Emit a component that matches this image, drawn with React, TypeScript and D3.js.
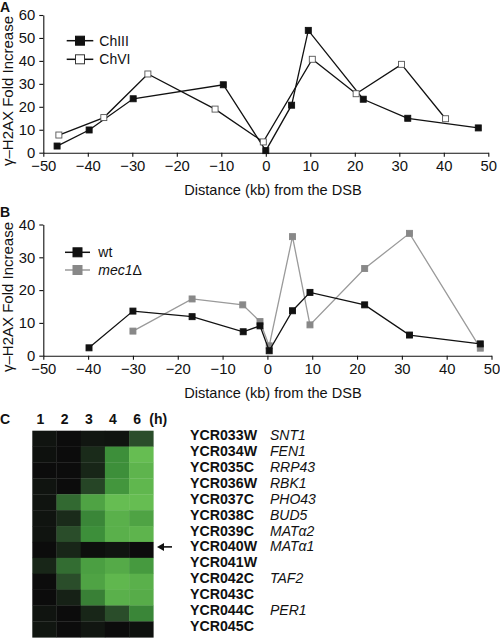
import React, { useEffect, useRef } from "react";
import * as d3 from "d3";

// Panel A data
const chIIIx = [-46.9, -39.7, -29.8, -9.55, 0, 5.8, 9.55, 21.9, 31.9, 47.75];
const chIIIy = [2.9, 9.9, 23.5, 29.6, 0.9, 20.7, 53.3, 23.3, 15.0, 10.8];
const chVIx = [-46.5, -36.4, -26.5, -11.4, -0.56, 10.45, 20.3, 30.5, 40.4];
const chVIy = [7.7, 15.3, 34.3, 19.0, 4.7, 40.7, 25.7, 38.5, 14.8];

// Panel B data
const wtX = [-39.8, -30, -16.8, -5.4, -1.65, 0.4, 5.6, 9.5, 21.7, 31.7, 47.5];
const wtY = [2.4, 13.6, 11.9, 7.3, 9.1, 1.5, 13.7, 19.3, 15.5, 6.3, 3.6];
const mecX = [-30, -16.8, -5.5, -1.65, 0.4, 5.6, 9.5, 21.7, 31.7, 47.5];
const mecY = [7.5, 17.3, 15.5, 10.4, 3.0, 36.3, 9.4, 26.6, 37.3, 2.3];

const xTicks = [-50, -40, -30, -20, -10, 0, 10, 20, 30, 40, 50];
const yTicksA = [0, 10, 20, 30, 40, 50, 60];
const yTicksB = [0, 10, 20, 30, 40];

// Panel C data
const timepoints = ["1", "2", "3", "4", "6"];
const orfs = ["YCR033W", "YCR034W", "YCR035C", "YCR036W", "YCR037C", "YCR038C", "YCR039C", "YCR040W", "YCR041W", "YCR042C", "YCR043C", "YCR044C", "YCR045C"];
const genes = ["SNT1", "FEN1", "RRP43", "RBK1", "PHO43", "BUD5", "MATα2", "MATα1", "", "TAF2", "", "PER1", ""];
const expression = [
  [0.03, 0, 0.04, 0.03, 0.25],
  [0.02, 0, 0.12, 0.6, 0.95],
  [0, 0, 0.1, 0.6, 0.88],
  [0.03, 0, 0.22, 0.65, 0.9],
  [0.03, 0.4, 0.75, 0.95, 0.95],
  [0.03, 0.12, 0.55, 0.85, 0.75],
  [0.03, 0.25, 0.6, 0.85, 0.88],
  [0, 0.1, 0.01, 0.03, 0],
  [0.1, 0.42, 0.72, 0.8, 0.68],
  [0, 0.25, 0.75, 0.9, 0.85],
  [0, 0.08, 0.52, 0.85, 0.82],
  [0.03, 0, 0.1, 0.25, 0.55],
  [0.04, 0, 0.04, 0, 0.02],
];
const arrowRow = "YCR040W";

const FONT = "'Liberation Sans', Arial, sans-serif";

export default function App() {
  const ref = useRef<SVGSVGElement>(null);

  useEffect(() => {
    const svg = d3.select(ref.current);
    svg.selectAll("*").remove();

    const drawPanel = (
      xs: d3.ScaleLinear<number, number>,
      ys: d3.ScaleLinear<number, number>,
      yTicks: number[],
      titleY: number,
      yTitleCenter: number,
      letter: string,
      letterY: number
    ) => {
      const g = svg.append("g");
      const xAxis = d3.axisBottom(xs).tickValues(xTicks).tickSize(4).tickSizeOuter(0).tickPadding(4).tickFormat(d3.format("d"));
      const yAxis = d3.axisLeft(ys).tickValues(yTicks).tickSize(4).tickSizeOuter(0).tickPadding(4).tickFormat(d3.format("d"));
      const gx = g.append("g").attr("transform", `translate(0,${ys(0)})`).call(xAxis);
      const gy = g.append("g").attr("transform", `translate(${xs(-50)},0)`).call(yAxis);
      [gx, gy].forEach((a) => {
        a.selectAll("path,line").attr("stroke", "#111").attr("stroke-width", 1.1);
        a.selectAll("text").attr("font-family", FONT).attr("font-size", 14.8).attr("fill", "#111");
      });
      g.append("text")
        .attr("x", 273)
        .attr("y", titleY)
        .attr("text-anchor", "middle")
        .attr("font-family", FONT)
        .attr("font-size", 14.6)
        .attr("fill", "#111")
        .text("Distance (kb) from the DSB");
      g.append("text")
        .attr("transform", `translate(13,${yTitleCenter}) rotate(-90)`)
        .attr("text-anchor", "middle")
        .attr("font-family", FONT)
        .attr("font-size", 15)
        .attr("fill", "#111")
        .text("γ–H2AX Fold Increase");
      g.append("text")
        .attr("x", 0)
        .attr("y", letterY)
        .attr("font-family", FONT)
        .attr("font-weight", "bold")
        .attr("font-size", 14)
        .attr("fill", "#111")
        .text(letter);
      return g;
    };

    const drawSeries = (
      g: d3.Selection<SVGGElement, unknown, null, undefined>,
      xs: d3.ScaleLinear<number, number>,
      ys: d3.ScaleLinear<number, number>,
      xv: number[],
      yv: number[],
      lineColor: string,
      fill: string,
      stroke: string,
      size: number
    ) => {
      const pts: [number, number][] = xv.map((x, i) => [x, yv[i]]);
      const line = d3.line<[number, number]>().x((d) => xs(d[0])).y((d) => ys(d[1]));
      g.append("path").attr("d", line(pts)).attr("fill", "none").attr("stroke", lineColor).attr("stroke-width", 1.3);
      g.selectAll(null)
        .data(pts)
        .enter()
        .append("rect")
        .attr("x", (d) => xs(d[0]) - size / 2)
        .attr("y", (d) => ys(d[1]) - size / 2)
        .attr("width", size)
        .attr("height", size)
        .attr("fill", fill)
        .attr("stroke", stroke)
        .attr("stroke-width", 0.9);
    };

    const legend = (
      g: d3.Selection<SVGGElement, unknown, null, undefined>,
      x0: number,
      x1: number,
      y: number,
      lineColor: string,
      fill: string,
      stroke: string,
      label: (t: d3.Selection<SVGTextElement, unknown, null, undefined>) => void,
      tx: number
    ) => {
      g.append("line").attr("x1", x0).attr("x2", x1).attr("y1", y).attr("y2", y).attr("stroke", lineColor).attr("stroke-width", 1.5);
      const m = (x0 + x1) / 2;
      g.append("rect").attr("x", m - 4.5).attr("y", y - 4.5).attr("width", 9).attr("height", 9).attr("fill", fill).attr("stroke", stroke).attr("stroke-width", 1);
      const t = g.append("text").attr("x", tx).attr("y", y + 5).attr("font-family", FONT).attr("font-size", 14).attr("fill", "#111");
      label(t);
    };

    // Panel A
    const xA = d3.scaleLinear().domain([-50, 50]).range([43.3, 488.3]);
    const yA = d3.scaleLinear().domain([0, 60]).range([152.7, 15]);
    const gA = drawPanel(xA, yA, yTicksA, 195, 91, "A", 12);
    drawSeries(gA, xA, yA, chIIIx, chIIIy, "#111", "#111", "#111", 6);
    drawSeries(gA, xA, yA, chVIx, chVIy, "#111", "#fff", "#555", 6);
    legend(gA, 66.7, 93.3, 40.7, "#111", "#111", "#111", (t) => t.text("ChIII"), 99.3);
    legend(gA, 66.7, 93.3, 59.3, "#111", "#fff", "#333", (t) => t.text("ChVI"), 99.3);

    // Panel B
    const xB = d3.scaleLinear().domain([-50, 50]).range([43.3, 491.5]);
    const yB = d3.scaleLinear().domain([0, 40]).range([355.7, 224.5]);
    const gB = drawPanel(xB, yB, yTicksB, 398, 297, "B", 217);
    drawSeries(gB, xB, yB, mecX, mecY, "#9a9a9a", "#888", "#888", 6);
    drawSeries(gB, xB, yB, wtX, wtY, "#111", "#111", "#111", 6);
    legend(gB, 65, 90, 252.3, "#111", "#111", "#111", (t) => t.text("wt"), 98.3);
    legend(gB, 65, 90, 270, "#9a9a9a", "#888", "#888", (t) => {
      t.append("tspan").attr("font-style", "italic").text("mec1");
      t.append("tspan").text("Δ");
    }, 98.3);

    // Panel C
    const gC = svg.append("g");
    const xC = d3.scaleBand<string>().domain(timepoints).range([32.3, 153.3]);
    const yC = d3.scaleBand<string>().domain(orfs).range([430.7, 637.3]);
    const color = d3.scaleLinear<string>().domain([0, 0.25, 0.6, 1]).range(["#0c0c0c", "#2a4d2a", "#3d8f3a", "#6cc455"]);
    orfs.forEach((orf, r) => {
      timepoints.forEach((tp, c) => {
        gC.append("rect")
          .attr("x", xC(tp)!)
          .attr("y", yC(orf)!)
          .attr("width", xC.bandwidth() + 0.3)
          .attr("height", yC.bandwidth() + 0.3)
          .attr("fill", color(expression[r][c]));
      });
    });
    gC.append("text").attr("x", 0).attr("y", 424).attr("font-family", FONT).attr("font-weight", "bold").attr("font-size", 14).attr("fill", "#111").text("C");
    timepoints.forEach((tp) => {
      gC.append("text")
        .attr("x", xC(tp)! + xC.bandwidth() / 2 - 4)
        .attr("y", 424)
        .attr("text-anchor", "middle")
        .attr("font-family", FONT)
        .attr("font-weight", "bold")
        .attr("font-size", 14)
        .attr("fill", "#111")
        .text(tp);
    });
    gC.append("text").attr("x", 158.3).attr("y", 424).attr("text-anchor", "middle").attr("font-family", FONT).attr("font-weight", "bold").attr("font-size", 14).attr("fill", "#111").text("(h)");
    orfs.forEach((orf, r) => {
      const cy = yC(orf)! + yC.bandwidth() / 2;
      gC.append("text").attr("x", 190).attr("y", cy + 1.5).attr("font-family", FONT).attr("font-weight", "bold").attr("font-size", 14.2).attr("fill", "#111").text(orf);
      if (genes[r]) {
        gC.append("text").attr("x", 270).attr("y", cy + 1.5).attr("font-family", FONT).attr("font-style", "italic").attr("font-size", 14).attr("fill", "#111").text(genes[r]);
      }
    });
    const ay = yC(arrowRow)! + yC.bandwidth() / 2 - 3;
    gC.append("line").attr("x1", 162).attr("x2", 172).attr("y1", ay).attr("y2", ay).attr("stroke", "#111").attr("stroke-width", 1.6);
    gC.append("path").attr("d", `M157,${ay} L164,${ay - 4} L164,${ay + 4} Z`).attr("fill", "#111");
  }, []);

  return (
    <svg ref={ref} width={500} height={639} style={{ position: "absolute", left: 0, top: 0, background: "#fff" }} />
  );
}
